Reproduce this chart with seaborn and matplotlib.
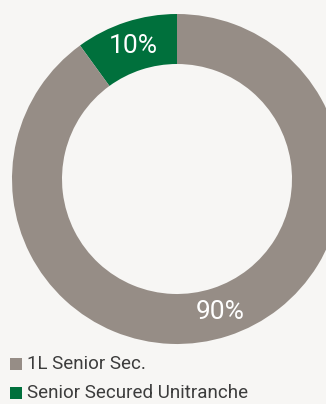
import matplotlib
matplotlib.use("Agg")
import matplotlib.pyplot as plt
import seaborn as sns
from matplotlib.patches import Rectangle

sns.set_style("white")
plt.rcParams['font.family'] = ['Roboto', 'DejaVu Sans']

categories = ["1L Senior Sec.", "Senior Secured Unitranche"]
values = [90, 10]
colors = ["#968d86", "#00703c"]
bg = "#f7f6f4"

W, H = 326, 404
fig = plt.figure(figsize=(W / 100, H / 100), dpi=100, facecolor=bg)

cx, cy, R = 177, 179, 165
ax = fig.add_axes([(cx - R) / W, (H - cy - R) / H, 2 * R / W, 2 * R / H])
ax.set_facecolor(bg)

# draw green first counterclockwise from top
order = [1, 0]
wedges, texts = ax.pie([values[i] for i in order],
                       colors=[colors[i] for i in order],
                       startangle=90, counterclock=True,
                       radius=1.0,
                       wedgeprops=dict(width=50 / 165, linewidth=0),
                       labels=[f"{values[i]}%" for i in order],
                       labeldistance=0.85,
                       textprops=dict(color="white", fontsize=19, fontweight="normal",
                                      ha="center", va="center"))
for t in texts:
    t.set_horizontalalignment("center")
    t.set_verticalalignment("center")
ax.set_xlim(-1, 1)
ax.set_ylim(-1, 1)
ax.set_aspect("equal")
ax.axis("off")

legend_y = [364, 393]
for cat, col, y in zip(categories, colors, legend_y):
    fig.patches.append(Rectangle((10 / W, (H - y - 6) / H), 12 / W, 12 / H,
                                 transform=fig.transFigure, facecolor=col,
                                 edgecolor="none"))
    fig.text(27 / W, (H - y) / H, cat, fontsize=13.5, color="#3c3c3c",
             va="center", ha="left")

fig.savefig("out.png", dpi=100, facecolor=bg)
